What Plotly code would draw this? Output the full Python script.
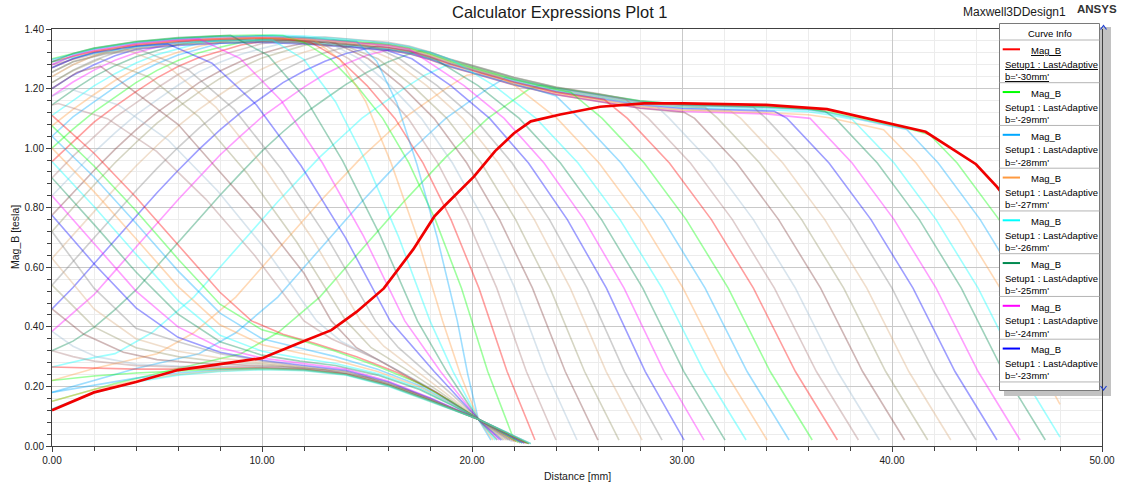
import plotly.graph_objects as go

# ---------------------------------------------------------------------------
# Data: Mag_B [tesla] versus Distance [mm], one list of (x, y) per b value.
# Values read/.
# ---------------------------------------------------------------------------
M30 = [(0, 0.12), (2, 0.18), (4, 0.215), (6, 0.255), (8, 0.275), (10, 0.295), (11.8, 0.347), (13.3, 0.389),
       (14.5, 0.45), (15.8, 0.529), (17.2, 0.66), (18.2, 0.77), (18.6, 0.80), (20.1, 0.905), (21.1, 0.99),
       (22.0, 1.05), (22.8, 1.09), (24.2, 1.113), (26.1, 1.139), (28.2, 1.15), (30.1, 1.15), (34.0, 1.145),
       (36.9, 1.131), (40.1, 1.08), (41.6, 1.055), (44.0, 0.946), (45.0, 0.87), (46.0, 0.78), (47.0, 0.66),
       (48.0, 0.53)]
M29 = [(0, 0.15), (3, 0.21), (6, 0.26), (9, 0.31), (10.75, 0.38), (11.75, 0.44), (12.75, 0.50), (13.75, 0.58),
       (14.75, 0.66), (15.75, 0.74), (16.75, 0.82), (17.75, 0.895), (18.75, 0.97), (19.75, 1.035), (20.75, 1.10),
       (21.75, 1.15), (22.75, 1.20), (23.3, 1.212), (24, 1.203), (26, 1.181), (28, 1.158), (30, 1.146),
       (32, 1.143), (34, 1.138), (36, 1.131), (37, 1.121), (38, 1.106), (39, 1.091), (40, 1.076), (41, 1.061),
       (41.8, 1.045), (43.1, 0.95), (45.1, 0.76), (47.1, 0.53), (48.0, 0.41)]
M28 = [(0, 0.18), (2, 0.22), (4, 0.26), (7, 0.31), (8.75, 0.38), (9.75, 0.44), (10.75, 0.50), (11.75, 0.58),
       (12.75, 0.66), (13.75, 0.74), (14.75, 0.82), (15.75, 0.895), (16.75, 0.97), (17.75, 1.035), (18.75, 1.10),
       (19.75, 1.15), (20.75, 1.20), (21.6, 1.237), (24, 1.20), (26, 1.178), (28, 1.155), (30, 1.143), (32, 1.14),
       (34, 1.135), (36, 1.128), (37, 1.118), (38, 1.103), (39, 1.088), (40, 1.073), (40.7, 1.063), (42.2, 0.95),
       (44.2, 0.76), (46.2, 0.53), (48.0, 0.28)]
M27 = [(0, 0.22), (2, 0.26), (5, 0.31), (6.75, 0.38), (7.75, 0.44), (8.75, 0.50), (9.75, 0.58), (10.75, 0.66),
       (11.75, 0.74), (12.75, 0.82), (13.75, 0.895), (14.75, 0.97), (15.75, 1.035), (16.75, 1.10), (17.75, 1.15),
       (18.75, 1.20), (19.75, 1.245), (20.4, 1.25), (22, 1.217), (24, 1.184), (26, 1.162), (28, 1.139),
       (30, 1.127), (32, 1.124), (34, 1.119), (36, 1.112), (37, 1.102), (38, 1.087), (39.6, 1.062),
       (41.15, 0.95), (43.15, 0.76), (45.15, 0.53), (47.15, 0.25), (48.0, 0.14)]
M26 = [(0, 0.265), (1.5, 0.29), (3, 0.31), (4.75, 0.38), (5.75, 0.44), (6.75, 0.50), (7.75, 0.58), (8.75, 0.66),
       (9.75, 0.74), (10.75, 0.82), (11.75, 0.895), (12.75, 0.97), (13.75, 1.035), (14.75, 1.10), (15.75, 1.15),
       (16.75, 1.20), (17.75, 1.245), (19.0, 1.285), (20, 1.267), (22, 1.227), (24, 1.194), (26, 1.172),
       (28, 1.149), (30, 1.137), (32, 1.134), (34, 1.129), (36, 1.122), (37, 1.112), (38.1, 1.097),
       (40.1, 0.95), (42.1, 0.76), (44.1, 0.53), (46.1, 0.25), (48.0, 0.03)]
M25 = [(0, 0.32), (1, 0.352), (2, 0.398), (3, 0.458), (4, 0.524), (5, 0.604), (6, 0.684), (7, 0.764), (8, 0.842),
       (9, 0.917), (10, 0.99), (11, 1.055), (12, 1.115), (13, 1.165), (14, 1.214), (15, 1.255), (16, 1.289),
       (17, 1.316), (17.6, 1.328), (18, 1.322), (19, 1.297), (20, 1.277), (22, 1.237), (24, 1.204), (26, 1.182),
       (28, 1.159), (30, 1.147), (32, 1.144), (34, 1.139), (36, 1.132), (36.8, 1.124), (37.3, 1.10),
       (39.3, 0.95), (41.3, 0.76), (43.3, 0.53), (45.3, 0.25), (47.3, 0.02)]
M24 = [(0, 0.385), (1, 0.446), (2, 0.508), (3, 0.588), (4, 0.668), (5, 0.748), (6, 0.827), (7, 0.902),
       (8, 0.977), (9, 1.042), (10, 1.105), (11, 1.155), (12, 1.205), (13, 1.249), (14, 1.283), (15, 1.312),
       (16, 1.33), (17, 1.318), (18, 1.298), (19, 1.273), (20, 1.253), (22, 1.213), (24, 1.18), (26, 1.158),
       (28, 1.135), (30, 1.123), (32, 1.12), (34, 1.115), (36.1, 1.10), (38.1, 0.95), (40.1, 0.76), (42.1, 0.53),
       (44.1, 0.25), (46.1, 0.02)]
M23 = [(0, 0.46), (1, 0.532), (2, 0.612), (3, 0.692), (4, 0.772), (5, 0.85), (6, 0.925), (7, 0.996), (8, 1.061),
       (9, 1.12), (10, 1.17), (11, 1.22), (12, 1.259), (13, 1.292), (14, 1.318), (15.5, 1.343), (17, 1.328),
       (18, 1.308), (19, 1.283), (20, 1.263), (22, 1.223), (24, 1.19), (26, 1.168), (28, 1.145), (30, 1.133),
       (32, 1.13), (34.4, 1.124), (35.0, 1.10), (37.0, 0.95), (39.0, 0.76), (41.0, 0.53), (43.0, 0.25),
       (45.0, 0.02)]
M22 = [(0, 0.54), (1, 0.62), (2, 0.70), (3, 0.78), (4, 0.857), (5, 0.932), (6, 1.002), (7, 1.067), (8, 1.125),
       (9, 1.175), (10, 1.222), (11, 1.262), (12, 1.295), (13, 1.32), (14, 1.34), (15.3, 1.355), (16, 1.351),
       (17, 1.339), (18, 1.319), (19, 1.294), (20, 1.274), (22, 1.234), (24, 1.201), (26, 1.179), (28, 1.156),
       (30, 1.144), (32, 1.141), (33.4, 1.138), (34.0, 1.10), (36.0, 0.95), (38.0, 0.76), (40.0, 0.53),
       (42.0, 0.25), (44.0, 0.02)]
M21 = [(0, 0.63), (1, 0.708), (2, 0.788), (3, 0.865), (4, 0.94), (5, 1.009), (6, 1.074), (7, 1.13), (8, 1.18),
       (9, 1.227), (10, 1.266), (11, 1.298), (12, 1.322), (13, 1.342), (14, 1.349), (16, 1.336), (17, 1.324),
       (18, 1.304), (19, 1.279), (20, 1.259), (22, 1.219), (24, 1.186), (26, 1.164), (28, 1.141), (30, 1.129),
       (32.3, 1.125), (32.8, 1.10), (34.8, 0.95), (36.8, 0.76), (38.8, 0.53), (40.8, 0.25), (42.8, 0.02)]
M20 = [(0, 0.72), (1, 0.80), (2, 0.876), (3, 0.951), (4, 1.019), (5, 1.084), (6, 1.138), (7, 1.188), (8, 1.234),
       (9, 1.271), (10, 1.303), (11, 1.325), (12, 1.345), (13.4, 1.362), (15, 1.353), (16, 1.346), (17, 1.334),
       (18, 1.314), (19, 1.289), (20, 1.269), (22, 1.229), (24, 1.196), (26, 1.174), (28, 1.151), (30, 1.139),
       (31.1, 1.137), (31.7, 1.10), (33.7, 0.95), (35.7, 0.76), (37.7, 0.53), (39.7, 0.25), (41.7, 0.02)]
M19 = [(0, 0.775), (1, 0.85), (2, 0.925), (3, 0.996), (4, 1.061), (5, 1.12), (6, 1.17), (7, 1.22), (8, 1.259),
       (9, 1.292), (10, 1.318), (11, 1.338), (12, 1.352), (14, 1.342), (16, 1.329), (17, 1.317), (18, 1.297),
       (19, 1.272), (20, 1.252), (22, 1.212), (24, 1.179), (26, 1.157), (28, 1.134), (30.1, 1.12), (30.6, 1.10),
       (32.6, 0.95), (34.6, 0.76), (36.6, 0.53), (38.6, 0.25), (40.6, 0.02)]
M18 = [(0, 0.84), (1, 0.914), (2, 0.986), (3, 1.051), (4, 1.112), (5, 1.162), (6, 1.211), (7, 1.256), (8, 1.288),
       (9, 1.315), (10, 1.335), (11, 1.352), (12.3, 1.362), (14, 1.354), (16, 1.341), (17, 1.329), (18, 1.309),
       (19, 1.284), (20, 1.264), (22, 1.224), (24, 1.191), (26, 1.169), (28, 1.146), (28.8, 1.14), (29.4, 1.10),
       (31.4, 0.95), (33.4, 0.76), (35.4, 0.53), (37.4, 0.25), (39.4, 0.02)]
M17 = [(0, 0.90), (1, 0.973), (2, 1.038), (3, 1.103), (4, 1.152), (5, 1.202), (6, 1.247), (7, 1.282), (8, 1.312),
       (9, 1.331), (10, 1.351), (11, 1.361), (12, 1.37), (13, 1.373), (15, 1.362), (16, 1.355), (17, 1.343),
       (18, 1.323), (19, 1.298), (20, 1.278), (22, 1.238), (24, 1.205), (26, 1.183), (27.3, 1.165), (28.4, 1.10),
       (30.4, 0.95), (32.4, 0.76), (34.4, 0.53), (36.4, 0.25), (38.4, 0.02)]
M16 = [(0, 0.955), (1, 1.022), (2, 1.087), (3, 1.14), (4, 1.19), (5, 1.236), (6, 1.274), (7, 1.304), (8, 1.326),
       (9, 1.346), (10, 1.358), (11, 1.364), (13, 1.356), (15, 1.345), (16, 1.338), (17, 1.326), (18, 1.306),
       (19, 1.281), (20, 1.261), (22, 1.221), (24, 1.188), (26.3, 1.163), (27.4, 1.10), (29.4, 0.95),
       (31.4, 0.76), (33.4, 0.53), (35.4, 0.25), (37.4, 0.02)]
M15 = [(0, 1.00), (1, 1.064), (2, 1.122), (3, 1.172), (4, 1.22), (5, 1.261), (6, 1.294), (7, 1.32), (8, 1.339),
       (9, 1.355), (10, 1.365), (11.5, 1.372), (13, 1.366), (15, 1.355), (16, 1.348), (17, 1.336), (18, 1.316),
       (19, 1.291), (20, 1.271), (22, 1.231), (24, 1.198), (24.7, 1.188), (26.2, 1.10), (28.2, 0.95),
       (30.2, 0.76), (32.2, 0.53), (34.2, 0.25), (36.2, 0.02)]
M14 = [(0, 1.04), (1, 1.105), (2, 1.155), (3, 1.205), (4, 1.249), (5, 1.283), (6, 1.313), (7, 1.332), (8, 1.352),
       (10, 1.359), (12, 1.354), (14, 1.344), (16, 1.331), (17, 1.319), (18, 1.299), (19, 1.274), (20, 1.254),
       (21, 1.234), (22, 1.214), (23, 1.197), (24, 1.175), (25.1, 1.10), (27.1, 0.95), (29.1, 0.76),
       (31.1, 0.53), (33.1, 0.25), (35.1, 0.02)]
M13 = [(0, 1.075), (1, 1.13), (2, 1.18), (3, 1.227), (4, 1.266), (5, 1.298), (6, 1.322), (7, 1.342), (8, 1.356),
       (9, 1.366), (10, 1.371), (12, 1.366), (14, 1.356), (16, 1.343), (17, 1.331), (18, 1.311), (19, 1.286),
       (20, 1.266), (21.3, 1.24), (22.05, 1.21), (24.05, 1.10), (26.05, 0.95), (28.05, 0.76), (30.05, 0.53),
       (32.05, 0.25), (34.05, 0.02)]
M12 = [(0, 1.11), (1, 1.16), (2, 1.209), (3, 1.25), (4, 1.286), (5, 1.314), (6, 1.334), (7, 1.352), (8, 1.362),
       (9, 1.372), (10.5, 1.38), (12, 1.376), (14, 1.366), (16, 1.353), (17, 1.341), (18, 1.321), (19.05, 1.296),
       (21.05, 1.21), (23.05, 1.10), (25.05, 0.95), (27.05, 0.76), (29.05, 0.53), (31.05, 0.25), (33.05, 0.02)]
M11 = [(0, 1.145), (1, 1.195), (2, 1.24), (3, 1.277), (4, 1.307), (5, 1.328), (6, 1.348), (7, 1.357), (9, 1.362),
       (11, 1.361), (13, 1.353), (15, 1.342), (17, 1.323), (18.32, 1.295), (20.29, 1.21), (22.25, 1.10),
       (24.21, 0.95), (26.17, 0.76), (28.13, 0.53), (30.09, 0.25), (32.05, 0.02)]
M10 = [(0, 1.175), (1, 1.222), (2, 1.262), (3, 1.295), (4, 1.32), (5, 1.34), (6, 1.355), (7, 1.365), (9, 1.372),
       (11, 1.371), (13, 1.363), (15, 1.352), (16, 1.345), (17.0, 1.333), (17.72, 1.30), (19.62, 1.21),
       (21.53, 1.10), (23.43, 0.95), (25.34, 0.76), (27.24, 0.53), (29.15, 0.25), (31.05, 0.02)]
M9 = [(0, 1.20), (1, 1.245), (2, 1.28), (3, 1.31), (4, 1.332), (6, 1.345), (8, 1.352), (10, 1.355), (12, 1.35),
      (14, 1.34), (16, 1.327), (17.14, 1.30), (18.99, 1.21), (20.84, 1.10), (22.69, 0.95), (24.54, 0.76),
      (26.4, 0.53), (28.25, 0.25), (30.1, 0.02)]
M8 = [(0, 1.22), (1, 1.262), (2, 1.295), (3, 1.32), (4, 1.342), (6, 1.355), (8, 1.362), (10, 1.365), (12, 1.36),
      (14, 1.35), (15.5, 1.335), (16.55, 1.30), (18.34, 1.21), (20.12, 1.10), (21.91, 0.95), (23.69, 0.76),
      (25.48, 0.53), (27.26, 0.25), (29.05, 0.02)]
M7 = [(0, 1.24), (1, 1.28), (2, 1.31), (3, 1.33), (4, 1.352), (6, 1.365), (8, 1.372), (10, 1.375), (12, 1.37),
      (14.42, 1.352), (16.13, 1.30), (17.84, 1.21), (19.55, 1.10), (21.26, 0.95), (22.97, 0.76), (24.68, 0.53),
      (26.39, 0.25), (28.1, 0.02)]
M6 = [(0, 1.255), (1, 1.29), (2.5, 1.318), (4, 1.334), (6, 1.347), (8, 1.354), (10, 1.357), (12, 1.352),
      (14, 1.342), (15.52, 1.30), (17.16, 1.21), (18.8, 1.10), (20.44, 0.95), (22.08, 0.76), (23.72, 0.53),
      (25.36, 0.25), (27.0, 0.02)]
M5 = [(0, 1.27), (1, 1.30), (2, 1.322), (4, 1.344), (6, 1.357), (8, 1.364), (10, 1.367), (12, 1.362),
      (13.5, 1.352), (15.06, 1.30), (16.63, 1.21), (18.19, 1.10), (19.75, 0.95), (21.31, 0.76), (22.88, 0.53),
      (24.44, 0.25), (26.0, 0.02)]
M4 = [(0, 1.28), (1, 1.31), (2, 1.332), (4, 1.354), (6, 1.367), (8, 1.374), (10, 1.377), (12, 1.372),
      (13.15, 1.355), (14.63, 1.30), (16.11, 1.21), (17.59, 1.10), (19.07, 0.95), (20.56, 0.76), (22.04, 0.53),
      (23.52, 0.25), (25.0, 0.02)]
M3 = [(0, 1.28), (2, 1.315), (4, 1.337), (6, 1.35), (8, 1.357), (10, 1.36), (12, 1.355), (13.0, 1.345),
      (14.14, 1.30), (15.55, 1.21), (16.96, 1.10), (18.37, 0.95), (19.77, 0.76), (21.18, 0.53), (22.59, 0.25),
      (24.0, 0.02)]
M2 = [(0, 1.29), (2, 1.325), (4, 1.347), (6, 1.36), (8, 1.367), (10, 1.37), (11, 1.368), (12.33, 1.355),
      (13.67, 1.30), (15.0, 1.21), (16.33, 1.10), (17.67, 0.95), (19.0, 0.76), (20.33, 0.53), (21.67, 0.25),
      (23.0, 0.02)]
M1 = [(0, 1.30), (2, 1.335), (4, 1.357), (6, 1.37), (8, 1.377), (10, 1.38), (11, 1.378), (12.0, 1.355),
      (13.25, 1.30), (14.5, 1.21), (15.75, 1.10), (17.0, 0.95), (18.25, 0.76), (19.5, 0.53), (20.75, 0.25),
      (22.0, 0.02)]
P0 = [(0, 1.297), (2, 1.332), (4, 1.354), (6, 1.367), (8, 1.374), (10, 1.377), (12, 1.372), (14, 1.362),
      (14.5, 1.358), (15.46, 1.292), (16.42, 1.152), (17.38, 0.945), (18.34, 0.701), (19.3, 0.42), (19.8, 0.24),
      (20.3, 0.09), (20.9, 0.02)]
P1 = [(0, 1.29), (2, 1.325), (4, 1.347), (6, 1.36), (8, 1.367), (10, 1.37), (12, 1.365), (12.5, 1.363),
      (13.72, 1.297), (14.94, 1.156), (16.16, 0.948), (17.38, 0.703), (18.6, 0.42), (19.45, 0.24), (20.3, 0.09),
      (21.0, 0.02)]
P2 = [(0, 1.29), (2, 1.318), (4, 1.34), (6, 1.353), (8, 1.36), (10, 1.363), (10.5, 1.363), (12.0, 1.297),
      (13.5, 1.156), (15.0, 0.948), (16.5, 0.703), (18.0, 0.42), (19.1, 0.25), (20.3, 0.09), (21.1, 0.02)]
P3 = [(0, 1.29), (1, 1.318), (2, 1.336), (4, 1.358), (6, 1.371), (8, 1.378), (8.5, 1.379), (10.28, 1.312),
      (12.06, 1.168), (13.84, 0.957), (15.62, 0.708), (17.4, 0.42), (18.8, 0.25), (20.3, 0.09), (21.2, 0.02)]
P4 = [(0, 1.28), (1, 1.31), (2, 1.328), (4, 1.35), (6, 1.363), (7, 1.367), (8.96, 1.301), (10.92, 1.159),
      (12.88, 0.95), (14.84, 0.704), (16.8, 0.42), (18.5, 0.25), (20.3, 0.09), (21.3, 0.02)]
P5 = [(0, 1.27), (1, 1.30), (2, 1.32), (3, 1.332), (4, 1.342), (5.5, 1.35), (7.62, 1.285), (9.74, 1.145),
      (11.86, 0.941), (13.98, 0.699), (16.1, 0.42), (18.2, 0.25), (20.3, 0.09), (21.4, 0.02)]
P6 = [(0, 1.255), (1, 1.29), (2.5, 1.315), (4.2, 1.33), (6.44, 1.266), (8.68, 1.13), (10.92, 0.93),
      (13.16, 0.693), (15.4, 0.42), (16.5, 0.33), (17.8, 0.25), (19.1, 0.17), (20.3, 0.09), (21.5, 0.02)]
P7 = [(0, 1.24), (1, 1.28), (2, 1.31), (3.2, 1.34), (5.5, 1.276), (7.8, 1.138), (10.1, 0.935), (12.4, 0.696),
      (14.7, 0.42), (15.8, 0.335), (17.2, 0.26), (18.7, 0.18), (20.3, 0.09), (21.6, 0.02)]
P8 = [(0, 1.22), (1, 1.26), (2.3, 1.30), (4.64, 1.238), (6.98, 1.106), (9.32, 0.913), (11.66, 0.684),
      (14.0, 0.42), (15.2, 0.33), (16.8, 0.26), (18.5, 0.18), (20.3, 0.09), (21.7, 0.02)]
P9 = [(0, 1.20), (1.2, 1.255), (2.3, 1.275), (4.1, 1.18), (6.0, 1.08), (8.0, 0.92), (10, 0.76), (12, 0.58),
      (13.3, 0.42), (14.5, 0.33), (16.3, 0.26), (18.3, 0.18), (20.3, 0.09), (21.8, 0.02)]
P10 = [(0, 1.175), (0.8, 1.20), (3.16, 1.145), (5.52, 1.028), (7.88, 0.857), (10.24, 0.654), (12.6, 0.42),
       (13.8, 0.35), (15.8, 0.28), (18.0, 0.195), (20.3, 0.09), (21.9, 0.015)]
P11 = [(0, 1.145), (0.3, 1.15), (2.64, 1.099), (4.98, 0.989), (7.32, 0.829), (9.66, 0.639), (12.0, 0.42),
       (13.3, 0.36), (15.5, 0.29), (17.8, 0.20), (20.3, 0.09), (22.0, 0.015)]
P12 = [(0, 1.11), (2, 0.983), (4, 0.835), (6, 0.676), (8, 0.516), (9.5, 0.42), (11, 0.375), (12.5, 0.345),
       (14.5, 0.30), (16.5, 0.245), (18.3, 0.18), (20.3, 0.09), (22.1, 0.015)]
P13 = [(0, 1.075), (2, 0.94), (4, 0.79), (6, 0.628), (8, 0.476), (10, 0.39), (11.8, 0.356), (13.5, 0.318),
       (15.5, 0.268), (17.5, 0.21), (19, 0.15), (20.3, 0.09), (22.2, 0.012)]
P14 = [(0, 1.04), (2, 0.903), (4, 0.748), (6, 0.588), (8, 0.446), (10, 0.36), (11.8, 0.329), (13.5, 0.30),
       (15.5, 0.258), (17.5, 0.203), (19, 0.145), (20.3, 0.09), (22.3, 0.012)]
P15 = [(0, 1.00), (2, 0.854), (4, 0.696), (6, 0.536), (8, 0.407), (10, 0.34), (11.8, 0.312), (13.5, 0.288),
       (15.5, 0.25), (17.5, 0.198), (19, 0.142), (20.3, 0.09), (22.3, 0.01)]
P16 = [(0, 0.955), (2, 0.804), (4, 0.644), (6, 0.488), (8, 0.372), (10, 0.318), (11.8, 0.295), (13.5, 0.277),
       (15.5, 0.243), (17.5, 0.194), (19, 0.14), (20.3, 0.09), (22.4, 0.01)]
P17 = [(0, 0.90), (2, 0.744), (4, 0.584), (6, 0.443), (8, 0.35), (10, 0.305), (11.8, 0.285), (13.5, 0.27),
       (15.5, 0.238), (17.5, 0.19), (19, 0.138), (20.3, 0.09), (22.4, 0.01)]
P18 = [(0, 0.84), (2, 0.68), (4, 0.52), (6, 0.40), (8, 0.33), (10, 0.295), (11.8, 0.278), (14, 0.258),
       (16, 0.218), (18, 0.162), (20.3, 0.09), (22.5, 0.01)]
P19 = [(0, 0.775), (2, 0.612), (4, 0.464), (6, 0.365), (8, 0.315), (10, 0.288), (11.8, 0.272), (14, 0.253),
       (16, 0.215), (18, 0.16), (20.3, 0.09), (22.5, 0.01)]
P20 = [(0, 0.72), (2, 0.53), (4, 0.395), (6, 0.35), (8, 0.31), (10, 0.285), (11.8, 0.268), (14, 0.25),
       (16, 0.212), (18, 0.158), (20.3, 0.09), (22.5, 0.01)]
P21 = [(0, 0.63), (2, 0.46), (4, 0.36), (6, 0.318), (8, 0.295), (10, 0.28), (11.8, 0.265), (14, 0.248),
       (16, 0.21), (18, 0.157), (20.3, 0.09), (22.6, 0.01)]
P22 = [(0, 0.54), (2, 0.40), (4, 0.33), (6, 0.30), (8, 0.283), (10, 0.275), (11.8, 0.263), (14, 0.246),
       (16, 0.208), (18, 0.156), (20.3, 0.09), (22.6, 0.01)]
P23 = [(0, 0.46), (1.5, 0.376), (3.4, 0.315), (5, 0.29), (7, 0.278), (9, 0.272), (11, 0.266), (13, 0.255),
       (15, 0.23), (17, 0.185), (19, 0.128), (20.3, 0.09), (22.6, 0.01)]
P24 = [(0, 0.385), (1, 0.335), (2.1, 0.30), (4, 0.275), (6, 0.268), (8, 0.266), (10, 0.265), (12, 0.26),
       (14, 0.245), (16, 0.207), (18, 0.155), (20.3, 0.09), (22.7, 0.008)]
P25 = [(0, 0.32), (1, 0.30), (2, 0.285), (4, 0.27), (6, 0.265), (8, 0.265), (10, 0.265), (12, 0.258),
       (14, 0.242), (16, 0.205), (18, 0.154), (20.3, 0.09), (22.7, 0.008)]
P26 = [(0, 0.265), (2, 0.262), (4, 0.258), (6, 0.258), (8, 0.26), (10, 0.262), (12, 0.257), (14, 0.242),
       (16, 0.205), (18, 0.153), (20.3, 0.09), (22.7, 0.008)]
P27 = [(0, 0.22), (2, 0.235), (4, 0.245), (6, 0.252), (8, 0.258), (10, 0.26), (12, 0.256), (14, 0.24),
       (16, 0.204), (18, 0.152), (20.3, 0.09), (22.7, 0.008)]
P28 = [(0, 0.18), (2, 0.205), (4, 0.228), (6, 0.245), (8, 0.255), (10, 0.26), (12, 0.255), (14, 0.24),
       (16, 0.203), (18, 0.152), (20.3, 0.09), (22.8, 0.008)]
P29 = [(0, 0.15), (2, 0.19), (4, 0.22), (6, 0.24), (8, 0.252), (10, 0.258), (12, 0.254), (14, 0.239),
       (16, 0.202), (18, 0.151), (20.3, 0.09), (22.8, 0.008)]
P30 = [(0, 0.125), (2, 0.178), (4, 0.215), (6, 0.238), (8, 0.25), (10, 0.256), (12, 0.253), (14, 0.238),
       (16, 0.201), (18, 0.15), (20.3, 0.09), (22.8, 0.008)]

B_MM = list(range(-30, 31))
SERIES = [M30, M29, M28, M27, M26, M25, M24, M23, M22, M21, M20, M19, M18, M17, M16, M15, M14, M13, M12, M11,
          M10, M9, M8, M7, M6, M5, M4, M3, M2, M1,
          P0, P1, P2, P3, P4, P5, P6, P7, P8, P9, P10, P11, P12, P13, P14, P15, P16, P17, P18, P19, P20,
          P21, P22, P23, P24, P25, P26, P27, P28, P29, P30]

# trace colour cycle (ANSYS report default order)
PALETTE = ["#ff0000", "#00ff00", "#00a8ff", "#ff9a40", "#00ffff", "#008a50", "#ff00ff",
           "#0000ff", "#808080", "#d8a878", "#909060", "#804040", "#98b8d0", "#a87878"]

LEGEND_B = ["-30mm", "-29mm", "-28mm", "-27mm", "-26mm", "-25mm", "-24mm", "-23mm"]

TITLE = "Calculator Expressions Plot 1"
DESIGN = "Maxwell3DDesign1"
X_TITLE = "Distance [mm]"
Y_TITLE = "Mag_B [tesla]"

# ---------------------------------------------------------------------------
FONT = "Liberation Sans, Arial, sans-serif"
W, H = 1121, 488
ML, MR, MT, MB = 52, 19, 29, 42
PW, PH = W - ML - MR, H - MT - MB


def xp(px):
    return (px - ML) / PW


def yp(py):
    return (H - MB - py) / PH


def rgba(hexcol, a):
    h = hexcol.lstrip("#")
    return "rgba(%d,%d,%d,%.2f)" % (int(h[0:2], 16), int(h[2:4], 16), int(h[4:6], 16), a)


fig = go.Figure()

selected = None
for b, pts in zip(B_MM, SERIES):
    col = PALETTE[(b + 30) % len(PALETTE)]
    xs = [p[0] for p in pts]
    ys = [p[1] for p in pts]
    if b == -30:
        selected = (xs, ys)
        continue
    fig.add_trace(go.Scatter(x=xs, y=ys, mode="lines", line=dict(color=rgba(col, 0.38), width=1.6),
                             hoverinfo="skip", showlegend=False))

xs, ys = selected
fig.add_trace(go.Scatter(x=xs, y=ys, mode="lines", line=dict(color="#f00000", width=2.7),
                         hoverinfo="skip", showlegend=False))

axis_common = dict(
    ticks="outside", ticklen=5, tickwidth=1, tickcolor="#404040", automargin=False,
    showline=True, linecolor="#404040", linewidth=1, mirror=True,
    showgrid=True, gridcolor="#c9c9c9", gridwidth=1, zeroline=False,
    tickfont=dict(family=FONT, size=10, color="#202020"),
)
fig.update_xaxes(range=[0, 50], autorange=False, tickmode="linear", tick0=0, dtick=10, tickformat=".2f",
                 minor=dict(tickmode="linear", tick0=0, dtick=2, ticks="outside", ticklen=4,
                            tickcolor="#404040", showgrid=True, gridcolor="#ececec", gridwidth=1),
                 **axis_common)
fig.update_yaxes(range=[0, 1.4], autorange=False, tickmode="linear", tick0=0, dtick=0.2, tickformat=".2f",
                 minor=dict(tickmode="linear", tick0=0, dtick=0.04, ticks="outside", ticklen=4,
                            tickcolor="#404040", showgrid=True, gridcolor="#ececec", gridwidth=1),
                 **axis_common)

shapes = []
annotations = []


def text(t, px, py, size, xanchor="left", color="#000000", angle=0):
    annotations.append(dict(text=t, x=xp(px), y=yp(py), xref="paper", yref="paper", showarrow=False,
                            xanchor=xanchor, yanchor="middle", textangle=angle,
                            font=dict(family=FONT, size=size, color=color)))


def line(x0, y0, x1, y1, color, width=1):
    shapes.append(dict(type="line", xref="paper", yref="paper", x0=xp(x0), y0=yp(y0), x1=xp(x1), y1=yp(y1),
                       line=dict(color=color, width=width), layer="above"))


def rect(x0, y0, x1, y1, fill, border=None):
    shapes.append(dict(type="rect", xref="paper", yref="paper", x0=xp(x0), y0=yp(y0), x1=xp(x1), y1=yp(y1),
                       fillcolor=fill, line=dict(color=border or fill, width=1 if border else 0),
                       layer="above"))


# titles
text(TITLE, 560, 12, 16.5, xanchor="center", color="#1a1a1a")
text(DESIGN, 961, 12, 12, color="#1a1a1a")
text("<b>ANSYS</b>", 1075, 9, 11.5, color="#333333")
text(X_TITLE, 577, 476, 10.5, xanchor="center", color="#1a1a1a")
text(Y_TITLE, 15, 237, 10.5, xanchor="center", color="#1a1a1a", angle=-90)

# legend ("Curve Info") panel with shadow
rect(1099.5, 27, 1111, 396, "#c2c2c2")
rect(1004, 390.5, 1111, 396, "#c2c2c2")
line(1102.5, 29, 1102.5, 446, "#404040", 1)
rect(999.5, 23.5, 1099.5, 390.5, "#ffffff", "#7a7a7a")
text("Curve Info", 1049.5, 33.3, 9.5, xanchor="center")
line(999.5, 40, 1099.5, 40, "#b4b4b4", 1)
step = 42.75
for i, lab in enumerate(LEGEND_B):
    off = i * step
    line(1002.7, 49.3 + off, 1020, 49.3 + off, PALETTE[i], 2)
    if i == 0:
        text("<u>Mag_B</u>", 1029, 50.7 + off, 9.5)
        text("<u>Setup1 : LastAdaptive</u>", 1002.7, 64.3 + off, 9.5)
        text("<u>b='%s'</u>" % lab, 1002.7, 76.7 + off, 9.5)
    else:
        text("Mag_B", 1029, 50.7 + off, 9.5)
        text("Setup1 : LastAdaptive", 1002.7, 64.3 + off, 9.5)
        text("b='%s'" % lab, 1002.7, 76.7 + off, 9.5)
    line(999.5, 82.7 + off, 1099.5, 82.7 + off, "#b4b4b4", 1)

# scroll arrows
shapes.append(dict(type="path", xref="paper", yref="paper",
                   path="M %f %f L %f %f L %f %f" % (xp(1100.5), yp(29.5), xp(1103.5), yp(25.5), xp(1106.5), yp(29.5)),
                   line=dict(color="#1f3fd0", width=1.2), layer="above"))
shapes.append(dict(type="path", xref="paper", yref="paper",
                   path="M %f %f L %f %f L %f %f" % (xp(1100.5), yp(386), xp(1103.5), yp(390), xp(1106.5), yp(386)),
                   line=dict(color="#1f3fd0", width=1.2), layer="above"))

fig.update_layout(
    width=W, height=H, autosize=False,
    margin=dict(l=ML, r=MR, t=MT, b=MB, pad=0),
    paper_bgcolor="white", plot_bgcolor="white",
    showlegend=False, font=dict(family=FONT, size=10, color="#202020"),
    shapes=shapes, annotations=annotations,
)

fig.write_html("out.html", config={"displayModeBar": False})
